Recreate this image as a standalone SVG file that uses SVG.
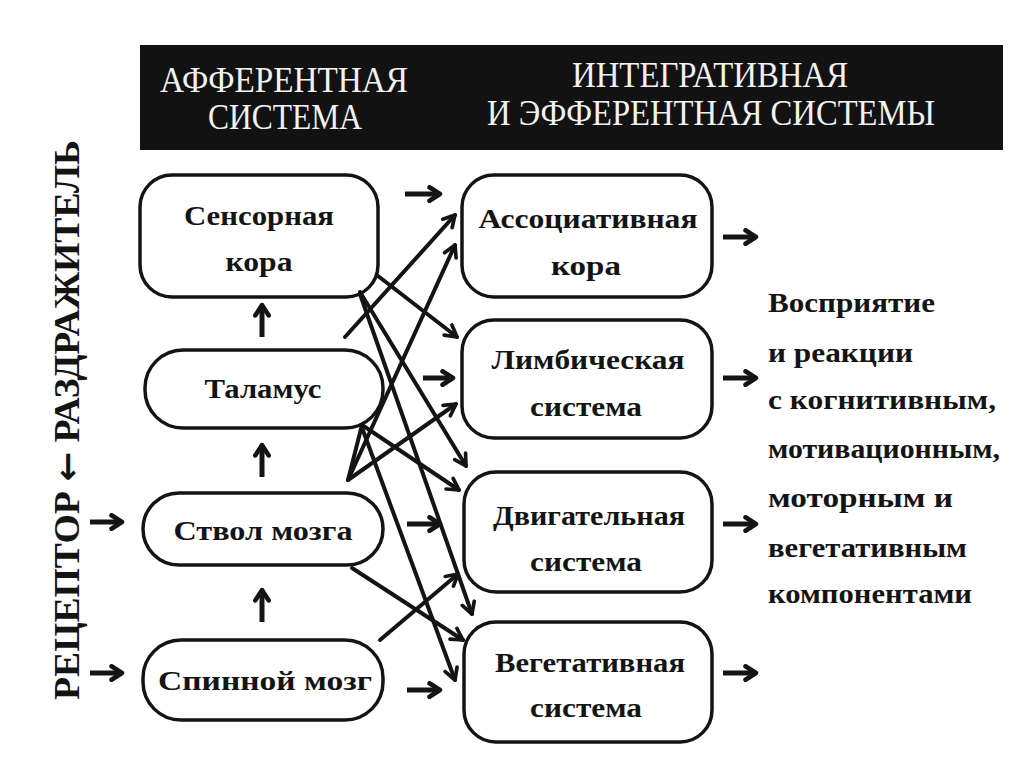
<svg xmlns="http://www.w3.org/2000/svg" width="1024" height="768" viewBox="0 0 1024 768">
<defs>
<style>
.box{fill:#fff;stroke:#141414;stroke-width:3.5}
.t{font-family:"Liberation Serif","DejaVu Serif",serif;font-weight:bold;font-size:28px;fill:#141414;text-anchor:middle}
.r{font-family:"Liberation Serif","DejaVu Serif",serif;font-weight:bold;font-size:27px;fill:#141414}
.h{font-family:"Liberation Serif","DejaVu Serif",serif;font-size:36px;fill:#f2f2f2;text-anchor:middle}
.v{font-family:"Liberation Serif","DejaVu Serif",serif;font-weight:bold;font-size:36px;fill:#141414}
.va{font-family:"DejaVu Sans",sans-serif;font-weight:bold;font-size:34px}
.c{fill:none;stroke:#141414;stroke-width:4;stroke-linecap:round}
.s{fill:none;stroke:#141414;stroke-width:5;stroke-linecap:butt}
</style>
<marker id="ah" viewBox="0 0 12 12" refX="10" refY="6" markerWidth="17" markerHeight="17" markerUnits="userSpaceOnUse" orient="auto">
<path d="M2,1.5 L10,6 L2,10.5" fill="none" stroke="#141414" stroke-width="2.6" stroke-linecap="round" stroke-linejoin="round"/>
</marker>
<marker id="ahs" viewBox="0 0 12 12" refX="10" refY="6" markerWidth="18" markerHeight="18" markerUnits="userSpaceOnUse" orient="auto">
<path d="M3,1.5 L10,6 L3,10.5" fill="none" stroke="#141414" stroke-width="3" stroke-linecap="round" stroke-linejoin="round"/>
</marker>
</defs>
<rect width="1024" height="768" fill="#fff"/>

<g id="header">
<rect x="140" y="45" width="863" height="105" fill="#121212"/>
<text class="h" x="284" y="92" textLength="248" lengthAdjust="spacingAndGlyphs">АФФЕРЕНТНАЯ</text>
<text class="h" x="285" y="129" textLength="154" lengthAdjust="spacingAndGlyphs">СИСТЕМА</text>
<text class="h" x="710" y="87" textLength="276" lengthAdjust="spacingAndGlyphs">ИНТЕГРАТИВНАЯ</text>
<text class="h" x="711" y="125" textLength="448" lengthAdjust="spacingAndGlyphs">И ЭФФЕРЕНТНАЯ СИСТЕМЫ</text>
</g>

<g id="label-stimulus">
<text class="v" transform="translate(79,700) rotate(-90)" textLength="560" lengthAdjust="spacingAndGlyphs">РЕЦЕПТОР <tspan class="va">←</tspan> РАЗДРАЖИТЕЛЬ</text>
</g>

<g id="n-sensory">
<rect class="box" x="140" y="175" width="238" height="122" rx="32"/>
<text class="t" x="259" y="225" textLength="150" lengthAdjust="spacingAndGlyphs">Сенсорная</text>
<text class="t" x="259" y="271" textLength="67" lengthAdjust="spacingAndGlyphs">кора</text>
</g>
<g id="n-thalamus">
<rect class="box" x="145" y="350" width="238" height="78" rx="38"/>
<text class="t" x="263" y="398" textLength="117" lengthAdjust="spacingAndGlyphs">Таламус</text>
</g>
<g id="n-stem">
<rect class="box" x="143" y="493" width="240" height="72" rx="36"/>
<text class="t" x="263" y="540" textLength="179" lengthAdjust="spacingAndGlyphs">Ствол мозга</text>
</g>
<g id="n-spinal">
<rect class="box" x="143" y="640" width="240" height="80" rx="38"/>
<text class="t" x="265" y="690" textLength="214" lengthAdjust="spacingAndGlyphs">Спинной мозг</text>
</g>

<g id="n-assoc">
<rect class="box" x="462" y="175" width="250" height="122" rx="32"/>
<text class="t" x="588" y="228" textLength="219" lengthAdjust="spacingAndGlyphs">Ассоциативная</text>
<text class="t" x="586" y="275" textLength="70" lengthAdjust="spacingAndGlyphs">кора</text>
</g>
<g id="n-limbic">
<rect class="box" x="462" y="320" width="250" height="118" rx="32"/>
<text class="t" x="588" y="369" textLength="193" lengthAdjust="spacingAndGlyphs">Лимбическая</text>
<text class="t" x="586" y="416" textLength="112" lengthAdjust="spacingAndGlyphs">система</text>
</g>
<g id="n-motor">
<rect class="box" x="464" y="472" width="248" height="120" rx="32"/>
<text class="t" x="589" y="525" textLength="192" lengthAdjust="spacingAndGlyphs">Двигательная</text>
<text class="t" x="586" y="571" textLength="112" lengthAdjust="spacingAndGlyphs">система</text>
</g>
<g id="n-veget">
<rect class="box" x="464" y="622" width="248" height="120" rx="32"/>
<text class="t" x="590" y="672" textLength="190" lengthAdjust="spacingAndGlyphs">Вегетативная</text>
<text class="t" x="586" y="717" textLength="112" lengthAdjust="spacingAndGlyphs">система</text>
</g>

<g id="label-output">
<text class="r" x="768" y="312" textLength="167" lengthAdjust="spacingAndGlyphs">Восприятие</text>
<text class="r" x="768" y="362" textLength="145" lengthAdjust="spacingAndGlyphs">и реакции</text>
<text class="r" x="768" y="409" textLength="228" lengthAdjust="spacingAndGlyphs">с когнитивным,</text>
<text class="r" x="768" y="458" textLength="232" lengthAdjust="spacingAndGlyphs">мотивационным,</text>
<text class="r" x="768" y="507" textLength="185" lengthAdjust="spacingAndGlyphs">моторным и</text>
<text class="r" x="768" y="557" textLength="199" lengthAdjust="spacingAndGlyphs">вегетативным</text>
<text class="r" x="768" y="603" textLength="204" lengthAdjust="spacingAndGlyphs">компонентами</text>
</g>

<g id="connectors">
<line class="c" x1="345" y1="337" x2="455" y2="215" marker-end="url(#ah)"/>
<line class="c" x1="348" y1="480" x2="455" y2="245" marker-end="url(#ah)"/>
<line class="c" x1="378" y1="276" x2="457" y2="337" marker-end="url(#ah)"/>
<line class="c" x1="360" y1="292" x2="466" y2="466" marker-end="url(#ah)"/>
<line class="c" x1="360" y1="294" x2="472" y2="614" marker-end="url(#ah)"/>
<line class="c" x1="361" y1="425" x2="455" y2="680" marker-end="url(#ah)"/>
<line class="c" x1="348" y1="480" x2="456" y2="404" marker-end="url(#ah)"/>
<line class="c" x1="362" y1="425" x2="459" y2="490" marker-end="url(#ah)"/>
<line class="c" x1="362" y1="425" x2="348" y2="480"/>
<line class="c" x1="352" y1="568" x2="463" y2="640" marker-end="url(#ah)"/>
<line class="c" x1="380" y1="640" x2="458" y2="574" marker-end="url(#ah)"/>

<line class="s" x1="262" y1="337" x2="262" y2="305" marker-end="url(#ahs)"/>
<line class="s" x1="262" y1="477" x2="262" y2="445" marker-end="url(#ahs)"/>
<line class="s" x1="262" y1="622" x2="262" y2="590" marker-end="url(#ahs)"/>

<line class="s" x1="405" y1="194" x2="440" y2="194" marker-end="url(#ahs)"/>
<line class="s" x1="423" y1="378" x2="453" y2="378" marker-end="url(#ahs)"/>
<line class="s" x1="407" y1="524" x2="440" y2="524" marker-end="url(#ahs)"/>
<line class="s" x1="407" y1="690" x2="440" y2="690" marker-end="url(#ahs)"/>

<line class="s" x1="723" y1="237" x2="756" y2="237" marker-end="url(#ahs)"/>
<line class="s" x1="723" y1="378" x2="756" y2="378" marker-end="url(#ahs)"/>
<line class="s" x1="723" y1="524" x2="756" y2="524" marker-end="url(#ahs)"/>
<line class="s" x1="723" y1="673" x2="756" y2="673" marker-end="url(#ahs)"/>

<line class="s" x1="90" y1="522" x2="122" y2="522" marker-end="url(#ahs)"/>
<line class="s" x1="90" y1="673" x2="122" y2="673" marker-end="url(#ahs)"/>
</g>
</svg>
